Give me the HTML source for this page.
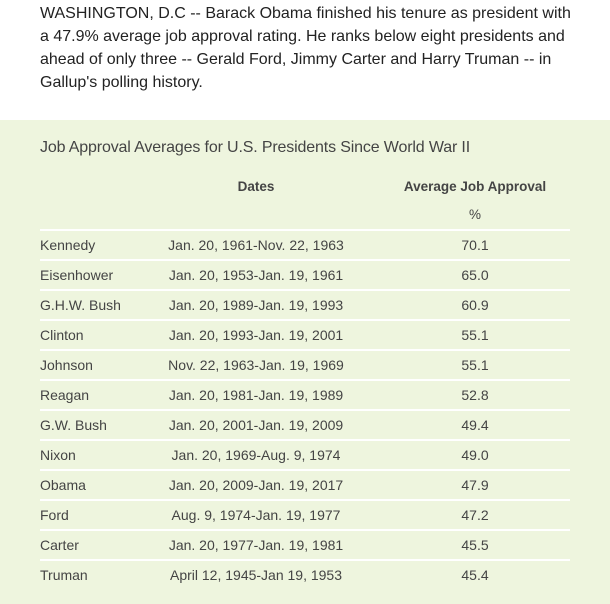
<!DOCTYPE html>
<html><head><meta charset="utf-8"><style>
body{margin:0;width:610px;height:604px;background:#fff;font-family:"Liberation Sans",sans-serif;position:relative;overflow:hidden}
.p{position:absolute;left:40px;top:2px;font-size:16px;line-height:23px;color:#222;white-space:nowrap}
.g{position:absolute;left:0;top:120px;width:610px;height:484px;background:#eef5de}
.t{position:absolute;left:40px;top:139px;font-size:16px;color:#444;letter-spacing:-0.15px}
.h{position:absolute;font-size:13.5px;font-weight:bold;color:#444;transform:translateX(-50%);white-space:nowrap}
.r{position:absolute;left:0;width:610px;height:30px;font-size:14px;color:#444;line-height:30px}
.r span{position:absolute;white-space:nowrap}
.c1{left:40px}.c2{left:256px;transform:translateX(-50%)}.c3{left:475px;transform:translateX(-50%)}
.l{position:absolute;left:40px;width:530px;height:2px;background:#fff}
</style></head><body>
<div class="p">WASHINGTON, D.C -- Barack Obama finished his tenure as president with<br>a 47.9% average job approval rating. He ranks below eight presidents and<br>ahead of only three -- Gerald Ford, Jimmy Carter and Harry Truman -- in<br>Gallup's polling history.</div>
<div class="g"></div>
<div class="t">Job Approval Averages for U.S. Presidents Since World War II</div>
<div class="h" style="left:256px;top:179px">Dates</div>
<div class="h" style="left:475px;top:179px">Average Job Approval</div>
<div class="h" style="left:475px;top:207px;font-weight:normal">%</div>
<div class="l" style="top:229px"></div>
<div class="r" style="top:230px"><span class="c1">Kennedy</span><span class="c2">Jan. 20, 1961-Nov. 22, 1963</span><span class="c3">70.1</span></div>
<div class="l" style="top:259px"></div>
<div class="r" style="top:260px"><span class="c1">Eisenhower</span><span class="c2">Jan. 20, 1953-Jan. 19, 1961</span><span class="c3">65.0</span></div>
<div class="l" style="top:289px"></div>
<div class="r" style="top:290px"><span class="c1">G.H.W. Bush</span><span class="c2">Jan. 20, 1989-Jan. 19, 1993</span><span class="c3">60.9</span></div>
<div class="l" style="top:319px"></div>
<div class="r" style="top:320px"><span class="c1">Clinton</span><span class="c2">Jan. 20, 1993-Jan. 19, 2001</span><span class="c3">55.1</span></div>
<div class="l" style="top:349px"></div>
<div class="r" style="top:350px"><span class="c1">Johnson</span><span class="c2">Nov. 22, 1963-Jan. 19, 1969</span><span class="c3">55.1</span></div>
<div class="l" style="top:379px"></div>
<div class="r" style="top:380px"><span class="c1">Reagan</span><span class="c2">Jan. 20, 1981-Jan. 19, 1989</span><span class="c3">52.8</span></div>
<div class="l" style="top:409px"></div>
<div class="r" style="top:410px"><span class="c1">G.W. Bush</span><span class="c2">Jan. 20, 2001-Jan. 19, 2009</span><span class="c3">49.4</span></div>
<div class="l" style="top:439px"></div>
<div class="r" style="top:440px"><span class="c1">Nixon</span><span class="c2">Jan. 20, 1969-Aug. 9, 1974</span><span class="c3">49.0</span></div>
<div class="l" style="top:469px"></div>
<div class="r" style="top:470px"><span class="c1">Obama</span><span class="c2">Jan. 20, 2009-Jan. 19, 2017</span><span class="c3">47.9</span></div>
<div class="l" style="top:499px"></div>
<div class="r" style="top:500px"><span class="c1">Ford</span><span class="c2">Aug. 9, 1974-Jan. 19, 1977</span><span class="c3">47.2</span></div>
<div class="l" style="top:529px"></div>
<div class="r" style="top:530px"><span class="c1">Carter</span><span class="c2">Jan. 20, 1977-Jan. 19, 1981</span><span class="c3">45.5</span></div>
<div class="l" style="top:559px"></div>
<div class="r" style="top:560px"><span class="c1">Truman</span><span class="c2">April 12, 1945-Jan 19, 1953</span><span class="c3">45.4</span></div>
</body></html>
